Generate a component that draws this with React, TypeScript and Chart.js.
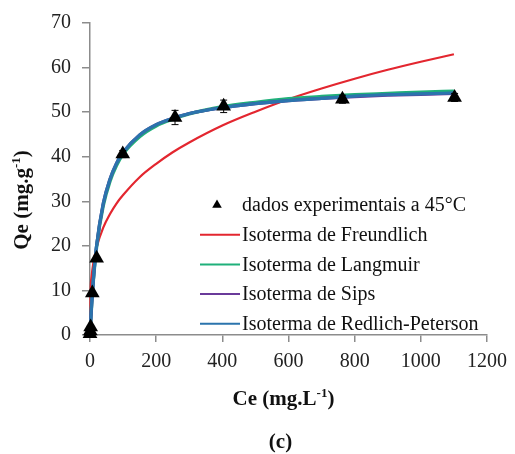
import React, { useEffect, useRef } from 'react';
import { Chart, registerables } from 'chart.js';

Chart.register(...registerables);

// Experimental data (45 °C)
const ceExp = [0, 1, 2, 7, 20, 99, 257, 404, 763, 1102];
const qeExp = [0.3, 0.9, 1.8, 9.4, 17.2, 40.6, 48.8, 51.3, 52.9, 53.3];
const qeErr = [0, 0, 0, 0, 0, 0.8, 1.6, 1.4, 0.9, 0.9];

// Fitted isotherms
const ceFit = [0, 2, 5, 10, 20, 40, 60, 80, 100, 150, 200, 250, 300, 400, 500, 600, 700, 800, 900, 1000, 1100];
const qFreundlich = [0, 10.1, 13.2, 16.1, 19.7, 24.1, 27.1, 29.5, 31.4, 35.4, 38.4, 41.0, 43.2, 47.0, 50.1, 52.9, 55.3, 57.5, 59.5, 61.3, 63.0];
const qLangmuir = [0, 2.9, 6.8, 12.1, 19.8, 29.0, 34.4, 38.0, 40.6, 44.5, 46.9, 48.4, 49.6, 51.2, 52.2, 53.0, 53.5, 53.9, 54.2, 54.5, 54.7];
const qSips = [0, 3.0, 6.9, 12.2, 20.1, 29.5, 34.9, 38.5, 41.0, 44.9, 47.2, 48.6, 49.7, 51.0, 51.9, 52.6, 53.1, 53.5, 53.8, 54.0, 54.2];
const qRedlich = [0, 3.0, 6.9, 12.2, 20.1, 29.5, 34.9, 38.5, 41.0, 44.9, 47.2, 48.6, 49.7, 51.0, 51.9, 52.6, 53.1, 53.6, 53.9, 54.1, 54.3];

const seriesNames = [
  'dados experimentais a 45°C',
  'Isoterma de Freundlich',
  'Isoterma de Langmuir',
  'Isoterma de Sips',
  'Isoterma de Redlich-Peterson',
];
const seriesColors = ['#000000', '#e3262f', '#1fb07a', '#6a3a9a', '#2b74ad'];

const xTicksMin = 0;
const xTicksMax = 1200;
const xStep = 200;
const yTicksMin = 0;
const yTicksMax = 70;
const yStep = 10;

const FONT = "'Liberation Serif', 'Times New Roman', serif";

export default function App() {
  const ref = useRef<HTMLCanvasElement>(null);

  useEffect(() => {
    const canvas = ref.current!;
    const mk = (xs: number[], ys: number[]) => xs.map((x, i) => ({ x, y: ys[i] }));

    const drawMixed = (
      ctx: CanvasRenderingContext2D,
      parts: { t: string; sup?: boolean }[],
      cx: number,
      cy: number,
      size: number
    ) => {
      const mainF = `bold ${size}px ${FONT}`;
      const supF = `bold ${Math.round(size * 0.62)}px ${FONT}`;
      let w = 0;
      parts.forEach((p) => {
        ctx.font = p.sup ? supF : mainF;
        w += ctx.measureText(p.t).width;
      });
      let x = cx - w / 2;
      ctx.textBaseline = 'alphabetic';
      ctx.textAlign = 'left';
      parts.forEach((p) => {
        ctx.font = p.sup ? supF : mainF;
        ctx.fillText(p.t, x, p.sup ? cy - size * 0.38 : cy);
        x += ctx.measureText(p.t).width;
      });
    };

    const overlay = {
      id: 'overlay',
      afterDatasetsDraw(chart: any) {
        const ctx = chart.ctx as CanvasRenderingContext2D;
        const xs = chart.scales.x;
        const ys = chart.scales.y;
        ctx.save();
        ctx.strokeStyle = '#000';
        ctx.lineWidth = 1;
        ceExp.forEach((c, i) => {
          const e = qeErr[i];
          if (!e) return;
          const px = xs.getPixelForValue(c);
          const top = ys.getPixelForValue(qeExp[i] + e);
          const bot = ys.getPixelForValue(qeExp[i] - e);
          ctx.beginPath();
          ctx.moveTo(px, top);
          ctx.lineTo(px, bot);
          ctx.moveTo(px - 3.5, top);
          ctx.lineTo(px + 3.5, top);
          ctx.moveTo(px - 3.5, bot);
          ctx.lineTo(px + 3.5, bot);
          ctx.stroke();
        });
        ctx.restore();
      },
      afterDraw(chart: any) {
        const ctx = chart.ctx as CanvasRenderingContext2D;
        const area = chart.chartArea;
        ctx.save();
        ctx.fillStyle = '#111';

        // Legend
        const lx = area.left + 110;
        const ly0 = area.top + 182;
        const dy = 29.7;
        ctx.font = `20px ${FONT}`;
        ctx.textBaseline = 'middle';
        ctx.textAlign = 'left';
        seriesNames.forEach((name, i) => {
          const y = ly0 + i * dy;
          if (i === 0) {
            const mx = lx + 17;
            const r = 5.5;
            ctx.beginPath();
            ctx.moveTo(mx, y - r);
            ctx.lineTo(mx + r * 0.87, y + r * 0.5);
            ctx.lineTo(mx - r * 0.87, y + r * 0.5);
            ctx.closePath();
            ctx.fillStyle = '#000';
            ctx.fill();
          } else {
            ctx.beginPath();
            ctx.strokeStyle = seriesColors[i];
            ctx.lineWidth = 2;
            ctx.moveTo(lx, y);
            ctx.lineTo(lx + 40, y);
            ctx.stroke();
          }
          ctx.fillStyle = '#111';
          ctx.fillText(name, lx + 42, y + 1);
        });

        // X title
        const cx = (area.left + area.right) / 2 - 5;
        drawMixed(ctx, [{ t: 'Ce (mg.L' }, { t: '-1', sup: true }, { t: ')' }], cx, area.bottom + 70, 21);

        // Y title (rotated)
        ctx.save();
        ctx.translate(28, (area.top + area.bottom) / 2 + 21);
        ctx.rotate(-Math.PI / 2);
        drawMixed(ctx, [{ t: 'Qe (mg.g' }, { t: '-1', sup: true }, { t: ')' }], 0, 0, 21);
        ctx.restore();

        // Panel label
        ctx.font = `bold 21px ${FONT}`;
        ctx.textAlign = 'center';
        ctx.textBaseline = 'alphabetic';
        ctx.fillText('(c)', cx - 3, area.bottom + 113);
        ctx.restore();
      },
    };

    const lineDs = (i: number, ys: number[], width: number, order: number) => ({
      label: seriesNames[i],
      data: mk(ceFit, ys),
      showLine: true,
      borderColor: seriesColors[i],
      backgroundColor: seriesColors[i],
      borderWidth: width,
      pointRadius: 0,
      cubicInterpolationMode: 'monotone' as const,
      order,
    });

    const chart = new Chart(canvas, {
      type: 'scatter',
      data: {
        datasets: [
          {
            label: seriesNames[0],
            data: mk(ceExp, qeExp),
            pointStyle: 'triangle',
            pointRadius: 8.5,
            pointBackgroundColor: '#000',
            pointBorderColor: '#000',
            pointBorderWidth: 0,
            showLine: false,
            order: 0,
          },
          lineDs(1, qFreundlich, 2.2, 5),
          lineDs(2, qLangmuir, 3.4, 4),
          lineDs(3, qSips, 3.2, 3),
          lineDs(4, qRedlich, 3.2, 2),
        ] as any,
      },
      options: {
        responsive: false,
        animation: false,
        clip: false as any,
        layout: { padding: { top: 23, right: 24, left: 0, bottom: 0 } },
        plugins: {
          legend: { display: false },
          tooltip: { enabled: false },
          title: { display: false },
        },
        scales: {
          x: {
            type: 'linear',
            min: xTicksMin,
            max: xTicksMax,
            ticks: {
              stepSize: xStep,
              color: '#222',
              font: { family: FONT, size: 20 },
              padding: 8,
              maxRotation: 0,
              callback: (v: any) => String(v),
            },
            grid: { drawOnChartArea: false, drawTicks: true, tickLength: 7, color: '#8c8c8c', lineWidth: 1.5 },
            border: { color: '#8c8c8c', width: 1.5 },
            afterFit: (s: any) => {
              s.height = 119;
            },
          },
          y: {
            type: 'linear',
            min: yTicksMin,
            max: yTicksMax,
            ticks: {
              stepSize: yStep,
              color: '#222',
              font: { family: FONT, size: 20 },
              padding: 11,
              callback: (v: any) => String(v),
            },
            grid: { drawOnChartArea: false, drawTicks: true, tickLength: 8, color: '#8c8c8c', lineWidth: 1.5 },
            border: { color: '#8c8c8c', width: 1.5 },
            afterFit: (s: any) => {
              s.width = 90;
            },
          },
        },
      } as any,
      plugins: [overlay],
    });
    return () => chart.destroy();
  }, []);

  return (
    <div style={{ position: 'fixed', left: 0, top: 0, width: 515, height: 454, background: '#fff' }}>
      <canvas ref={ref} width={515} height={454} style={{ display: 'block' }} />
    </div>
  );
}
